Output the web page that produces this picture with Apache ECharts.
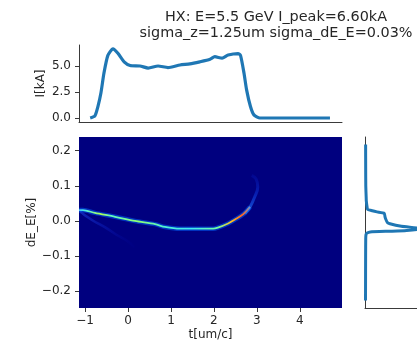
<!DOCTYPE html>
<html>
<head>
<meta charset="utf-8">
<script src="https://cdn.jsdelivr.net/npm/echarts@6/dist/echarts.min.js"></script>
<style>
  html, body { margin: 0; padding: 0; background: #fff; }
  #c { width: 417px; height: 344px; }
</style>
</head>
<body>
<div id="c"></div>
<script>
// ---- data ----
const titleLines = ["HX: E=5.5 GeV I_peak=6.60kA", "sigma_z=1.25um sigma_dE_E=0.03%"];

// current profile (top)
const profT = [-0.88, -0.77, -0.70, -0.63, -0.56, -0.47, -0.35, -0.23, -0.09, 0.05, 0.28, 0.47, 0.70, 0.93, 1.21, 1.44, 1.67, 1.91, 2.02, 2.19, 2.33, 2.56, 2.62, 2.70, 2.76, 2.85, 2.93, 3.07, 3.5, 4.0, 4.70];
const profI = [0.0, 0.2, 1.1, 2.4, 4.3, 6.0, 6.65, 6.2, 5.4, 5.05, 5.0, 4.8, 5.0, 4.85, 5.1, 5.2, 5.4, 5.65, 5.9, 5.75, 6.05, 6.2, 6.0, 4.3, 2.7, 1.1, 0.3, 0.0, 0.0, 0.0, 0.0];

// longitudinal phase space: bright core of the beam
const beamT  = [-1.14, -1.05, -0.77, -0.30, 0.16, 0.63, 0.86, 1.21, 1.63, 1.98, 2.09, 2.33, 2.49, 2.68, 2.84];
const beamDE = [0.031, 0.031, 0.023, 0.012, 0.000, -0.009, -0.017, -0.022, -0.022, -0.022, -0.019, -0.007, 0.004, 0.019, 0.040];
// faint upper tail (head of the beam curls up)
const tailUpT  = [2.72, 2.84, 2.95, 3.02, 2.98, 2.88];
const tailUpDE = [0.021, 0.040, 0.069, 0.097, 0.120, 0.130];
// faint lower tail
const tailLoT  = [-1.12, -0.95, -0.80, -0.53, -0.26, 0.0, 0.15];
const tailLoDE = [0.028, 0.012, 0.000, -0.018, -0.040, -0.058, -0.075];

// energy projection (right)
const eDE = [0.218, 0.15, 0.10, 0.065, 0.057, 0.045, 0.033, 0.030, 0.026, 0.022, 0.012, 0.005, -0.004, -0.008, -0.015, -0.022, -0.027, -0.029, -0.031, -0.034, -0.038, -0.05, -0.10, -0.15, -0.226];
const eDens = [1.2, 1.3, 1.5, 2.3, 2.5, 3.5, 5, 12, 23, 37, 38.5, 40, 43, 48, 70, 110, 80, 52, 10, 4, 2, 1.4, 1.2, 1.1, 1.0];

// tick labels
const topYTicks = [0, 2.5, 5.0];
const mainXTicks = [-1, 0, 1, 2, 3, 4];
const mainYTicks = [-0.2, -0.1, 0.0, 0.1, 0.2];

// ---- chart ----
const FONT = '"DejaVu Sans", "Liberation Sans", sans-serif';
const TXT = '#262626';
const SPINE = '#3a3a3a';
const minus = s => s.replace('-', '\u2212');
const pairs = (a, b) => a.map((v, i) => [v, b[i]]);

const chart = echarts.init(document.getElementById('c'), null, { renderer: 'canvas' });

const tickStyle = { show: true, length: 4, lineStyle: { color: SPINE, width: 1 } };

const option = {
  animation: false,
  textStyle: { fontFamily: FONT },
  graphic: [
    { type: 'text', x: 276, y: 17, style: { text: titleLines[0], font: '14.4px ' + FONT, fill: TXT, align: 'center', verticalAlign: 'middle', textAlign: 'center', textVerticalAlign: 'middle' } },
    { type: 'text', x: 276, y: 33, style: { text: titleLines[1], font: '14.4px ' + FONT, fill: TXT, align: 'center', verticalAlign: 'middle', textAlign: 'center', textVerticalAlign: 'middle' } }
  ],
  grid: [
    { left: 79, top: 45, width: 263, height: 77 },
    { left: 79, top: 137, width: 263, height: 171, show: true, backgroundColor: '#00007f', borderWidth: 0 },
    { left: 365, top: 137, width: 100, height: 171 }
  ],
  xAxis: [
    { gridIndex: 0, type: 'value', min: -1.14, max: 4.98,
      axisLine: { show: true, onZero: false, lineStyle: { color: SPINE, width: 1 } },
      axisTick: { show: false }, axisLabel: { show: false }, splitLine: { show: false } },
    { gridIndex: 1, type: 'value', min: -1.14, max: 4.98,
      name: 't[um/c]', nameLocation: 'middle', nameGap: 21, nameMoveOverlap: false,
      nameTextStyle: { fontSize: 12, color: TXT, fontFamily: FONT },
      axisLine: { show: false, onZero: false },
      axisTick: Object.assign({ customValues: mainXTicks }, tickStyle),
      axisLabel: { customValues: mainXTicks, margin: 7, fontSize: 12, color: TXT, fontFamily: FONT,
                   formatter: v => minus(String(v)) },
      splitLine: { show: false } },
    { gridIndex: 2, type: 'value', min: 0, max: 100,
      axisLine: { show: true, onZero: false, lineStyle: { color: SPINE, width: 1 } },
      axisTick: { show: false }, axisLabel: { show: false }, splitLine: { show: false } }
  ],
  yAxis: [
    { gridIndex: 0, type: 'value', min: -0.385, max: 7.02,
      name: 'I[kA]', nameLocation: 'middle', nameGap: 32, nameRotate: 90, nameMoveOverlap: false,
      nameTextStyle: { fontSize: 12, color: TXT, fontFamily: FONT },
      axisLine: { show: true, onZero: false, lineStyle: { color: SPINE, width: 1 } },
      axisTick: Object.assign({ customValues: topYTicks }, tickStyle),
      axisLabel: { customValues: topYTicks, margin: 8, fontSize: 12, color: TXT, fontFamily: FONT,
                   formatter: v => v.toFixed(1) },
      splitLine: { show: false } },
    { gridIndex: 1, type: 'value', min: -0.2476, max: 0.239,
      name: 'dE_E[%]', nameLocation: 'middle', nameGap: 41, nameRotate: 90, nameMoveOverlap: false,
      nameTextStyle: { fontSize: 12, color: TXT, fontFamily: FONT },
      axisLine: { show: false, onZero: false },
      axisTick: Object.assign({ customValues: mainYTicks }, tickStyle),
      axisLabel: { customValues: mainYTicks, margin: 8, fontSize: 12, color: TXT, fontFamily: FONT,
                   formatter: v => minus(v.toFixed(1)) },
      splitLine: { show: false } },
    { gridIndex: 2, type: 'value', min: -0.2476, max: 0.239,
      axisLine: { show: true, onZero: false, lineStyle: { color: SPINE, width: 1 } },
      axisTick: { show: false }, axisLabel: { show: false }, splitLine: { show: false } }
  ],
  series: [
    { type: 'line', xAxisIndex: 0, yAxisIndex: 0, data: pairs(profT, profI), showSymbol: false, smooth: 0.2,
      lineStyle: { color: '#1f77b4', width: 3.2 } },
    { type: 'line', xAxisIndex: 1, yAxisIndex: 1, data: pairs(tailLoT, tailLoDE), showSymbol: false, smooth: 0.3,
      lineStyle: { width: 2.5, color: new echarts.graphic.LinearGradient(0, 0, 1, 0, [
        { offset: 0, color: 'rgba(40,90,255,0.45)' }, { offset: 0.5, color: 'rgba(20,50,230,0.25)' }, { offset: 1, color: 'rgba(0,0,160,0.05)' }]) } },
    { type: 'line', xAxisIndex: 1, yAxisIndex: 1, data: pairs(tailUpT, tailUpDE), showSymbol: false, smooth: 0.4,
      lineStyle: { width: 3, color: new echarts.graphic.LinearGradient(0, 1, 0, 0, [
        { offset: 0, color: 'rgba(40,140,255,0.75)' }, { offset: 0.5, color: 'rgba(20,80,255,0.4)' }, { offset: 1, color: 'rgba(10,40,220,0.15)' }]) } },
    { type: 'line', xAxisIndex: 1, yAxisIndex: 1, data: pairs(beamT, beamDE), showSymbol: false, smooth: 0.3,
      lineStyle: { width: 4.5, color: 'rgba(0,100,255,0.5)' } },
    { type: 'line', xAxisIndex: 1, yAxisIndex: 1, data: pairs(beamT, beamDE), showSymbol: false, smooth: 0.3,
      lineStyle: { width: 1.8, color: new echarts.graphic.LinearGradient(0, 0, 1, 0, [
        { offset: 0.00, color: '#3aa8ff' },
        { offset: 0.05, color: '#50f0e0' },
        { offset: 0.14, color: '#b0ff50' },
        { offset: 0.20, color: '#60f8c0' },
        { offset: 0.35, color: '#90ff70' },
        { offset: 0.50, color: '#50f0d0' },
        { offset: 0.65, color: '#40e8f0' },
        { offset: 0.80, color: '#70ffa0' },
        { offset: 0.88, color: '#ffc020' },
        { offset: 0.94, color: '#ff6020' },
        { offset: 1.00, color: '#40a0ff' }]) } },
    { type: 'line', xAxisIndex: 2, yAxisIndex: 2, data: pairs(eDens, eDE), showSymbol: false, smooth: 0.15,
      clip: true, lineStyle: { color: '#1f77b4', width: 3 } }
  ]
};
chart.setOption(option);
</script>
</body>
</html>
